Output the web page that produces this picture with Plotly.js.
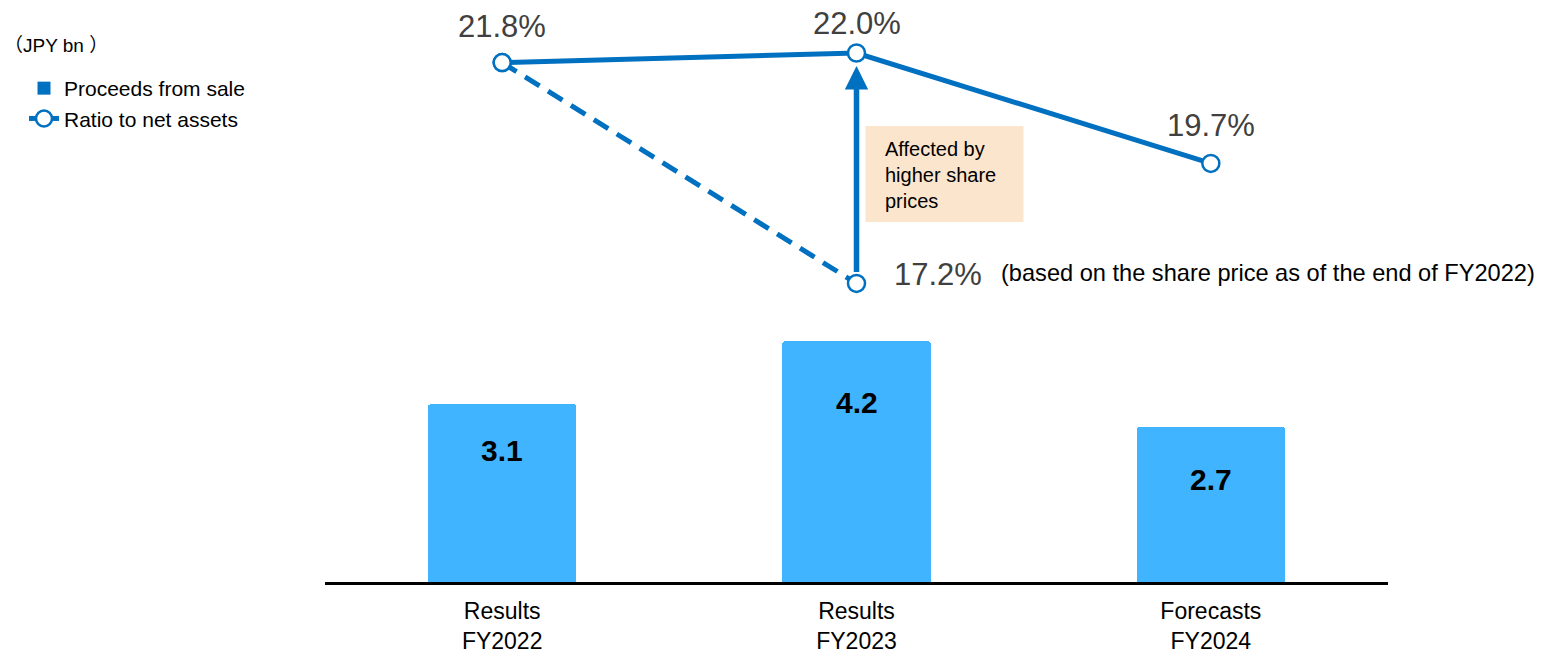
<!DOCTYPE html>
<html>
<head>
<meta charset="utf-8">
<script src="https://cdn.plot.ly/plotly-3.0.1.min.js"></script>
<style>
  html, body { margin: 0; padding: 0; background: #ffffff; }
  #chart { width: 1544px; height: 654px; }
</style>
</head>
<body>
<div id="chart"></div>
<script>
// Fiscal years on the category axis
const categories = ['FY2022', 'FY2023', 'FY2024'];
const tickLabels = ['Results<br>FY2022', 'Results<br>FY2023', 'Forecasts<br>FY2024'];

// Proceeds from sale of cross-held shares (JPY bn)
const proceeds = [3.1, 4.2, 2.7];

// Ratio of cross-held shares to net assets (%)
const ratio = [21.8, 22.0, 19.7];

// FY2023 ratio restated at the end-of-FY2022 share price
const ratioFixedPriceX = ['FY2022', 'FY2023'];
const ratioFixedPrice = [21.8, 17.2];

const legendNames = ['Proceeds from sale', 'Ratio to net assets'];
const unitText = '（JPY bn ）';
const noteText = 'Affected by<br>higher share<br>prices';
const priceBasisText = '(based on the share price as of the end of FY2022)';

// ---- layout geometry ----
const W = 1544, H = 654;
const M = { l: 325, r: 156, t: 20, b: 72 };
const plotW = W - M.l - M.r;
const plotH = H - M.t - M.b;
const pxPerBn = 57.3;            // bar axis scale
const pxPerPct = 48;             // ratio axis scale
const y2Top = ratio[1] + 33 / pxPerPct;
const y2Range = [y2Top - plotH / pxPerPct, y2Top];
const yRange = [0, plotH / pxPerBn];

const FONT = 'Arial, "Liberation Sans", "Noto Sans CJK JP", sans-serif';
const LINE_BLUE = '#0070C0';
const BAR_BLUE = '#41B4FF';
const idx = c => categories.indexOf(c);

const traces = [
  {
    type: 'bar',
    x: categories,
    y: proceeds,
    width: 0.418,
    marker: { color: BAR_BLUE, cornerradius: 2, line: { width: 0 } },
    showlegend: false,
    hoverinfo: 'skip'
  },
  // legend key for the bars (square swatch)
  {
    type: 'scatter',
    mode: 'markers',
    x: [null], y: [null],
    name: legendNames[0],
    marker: { symbol: 'square', size: 13, color: LINE_BLUE },
    hoverinfo: 'skip'
  },
  {
    type: 'scatter',
    mode: 'lines+markers',
    x: ratioFixedPriceX,
    y: ratioFixedPrice,
    yaxis: 'y2',
    line: { color: LINE_BLUE, width: 5, dash: '17px,10px' },
    marker: { symbol: 'circle', size: 17, color: '#ffffff', line: { color: LINE_BLUE, width: 2.5 } },
    showlegend: false,
    hoverinfo: 'skip'
  },
  {
    type: 'scatter',
    mode: 'lines+markers',
    x: categories,
    y: ratio,
    yaxis: 'y2',
    name: legendNames[1],
    line: { color: LINE_BLUE, width: 5 },
    marker: { symbol: 'circle', size: 17, color: '#ffffff', line: { color: LINE_BLUE, width: 2.5 } },
    hoverinfo: 'skip'
  }
];

const annotations = [];

// percentage labels above the ratio markers
const pctShift = [36, 30, 38];
ratio.forEach((v, i) => {
  annotations.push({
    x: i, y: v, xref: 'x', yref: 'y2',
    text: v.toFixed(1) + '%',
    showarrow: false, yanchor: 'middle', yshift: pctShift[i],
    font: { family: FONT, size: 31, color: '#404040' }
  });
});

// restated FY2023 ratio and its basis
const fy23 = idx(ratioFixedPriceX[1]);
annotations.push({
  x: fy23, y: ratioFixedPrice[1], xref: 'x', yref: 'y2',
  text: ratioFixedPrice[1].toFixed(1) + '%',
  showarrow: false, xanchor: 'left', yanchor: 'middle', xshift: 35, yshift: 9,
  font: { family: FONT, size: 31, color: '#404040' }
});
annotations.push({
  x: fy23, y: ratioFixedPrice[1], xref: 'x', yref: 'y2',
  text: priceBasisText,
  showarrow: false, xanchor: 'left', yanchor: 'middle', xshift: 142, yshift: 10,
  font: { family: FONT, size: 23.6, color: '#000000' }
});

// upward arrow from the restated ratio to the reported ratio
annotations.push({
  x: fy23, y: ratio[fy23], xref: 'x', yref: 'y2',
  ax: fy23, ay: ratioFixedPrice[1], axref: 'x', ayref: 'y2',
  text: '', showarrow: true,
  arrowhead: 2, arrowsize: 0.85, arrowwidth: 5.5, arrowcolor: LINE_BLUE,
  standoff: 13, startstandoff: 10
});

// note next to the arrow
annotations.push({
  x: fy23, y: ratio[fy23], xref: 'x', yref: 'y2',
  text: noteText, align: 'left',
  showarrow: false, xanchor: 'left', yanchor: 'middle', xshift: 26, yshift: -122,
  font: { family: FONT, size: 20, color: '#000000' }
});

// values inside the bars
const barLabelShift = [-46, -61, -52];
proceeds.forEach((v, i) => {
  annotations.push({
    x: i, y: v, xref: 'x', yref: 'y',
    text: '<b>' + v.toFixed(1) + '</b>',
    showarrow: false, yanchor: 'middle', yshift: barLabelShift[i],
    font: { family: FONT, size: 30, color: '#000000' }
  });
});

// unit caption (top-left corner of the page)
annotations.push({
  xref: 'paper', yref: 'paper',
  x: (2 - M.l) / plotW, y: (H - M.b - 45) / plotH,
  xanchor: 'left', yanchor: 'middle',
  text: unitText, showarrow: false,
  font: { family: FONT, size: 19, color: '#000000' }
});

const shapes = [
  // background of the note
  {
    type: 'rect', layer: 'below',
    xref: 'x', xsizemode: 'pixel', xanchor: fy23, x0: 9, x1: 167,
    yref: 'y2', ysizemode: 'pixel', yanchor: ratio[fy23], y0: -73, y1: -169,
    fillcolor: '#FBE5CD', line: { width: 0 }
  }
];

const layout = {
  width: W, height: H,
  margin: M,
  paper_bgcolor: '#ffffff',
  plot_bgcolor: '#ffffff',
  font: { family: FONT, color: '#000000' },
  showlegend: true,
  legend: {
    xref: 'container', yref: 'container',
    x: 24 / W, y: 1 - 68 / H, xanchor: 'left', yanchor: 'top',
    font: { family: FONT, size: 21, color: '#000000' },
    bgcolor: 'rgba(0,0,0,0)', traceorder: 'normal',
    itemwidth: 30, tracegroupgap: 0
  },
  xaxis: {
    type: 'category',
    range: [-0.5, 2.5],
    tickvals: categories, ticktext: tickLabels,
    tickfont: { family: FONT, size: 23, color: '#000000' },
    ticks: '', ticklabelstandoff: 6,
    showline: true, linecolor: '#000000', linewidth: 3,
    showgrid: false, zeroline: false, fixedrange: true
  },
  yaxis: { range: yRange, visible: false, showgrid: false, zeroline: false, fixedrange: true },
  yaxis2: { range: y2Range, overlaying: 'y', visible: false, showgrid: false, zeroline: false, fixedrange: true },
  annotations: annotations,
  shapes: shapes,
  bargap: 0
};

Plotly.newPlot('chart', traces, layout, { staticPlot: true, displayModeBar: false });
</script>
</body>
</html>
